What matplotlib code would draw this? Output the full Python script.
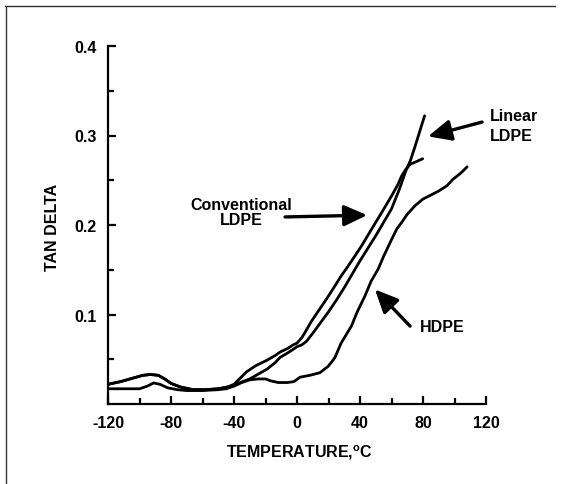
import numpy as np
import matplotlib
matplotlib.use('Agg')
import matplotlib.pyplot as plt
from matplotlib.lines import Line2D

plt.rcParams['font.family'] = ['Liberation Sans', 'DejaVu Sans']
plt.rcParams['font.weight'] = 'bold'
plt.rcParams['mathtext.fontset'] = 'custom'
plt.rcParams['mathtext.rm'] = 'Liberation Sans:bold'

# curves (temperature in C, tan delta)
conv_t = [-120, -112, -104, -98, -93, -88, -84, -80, -74, -66, -58, -50, -44, -40, -36,
          -32, -26, -19, -14, -10.8, -6, -2.5, 0, 3, 5.1, 9, 13.6, 19, 24.1, 28, 32.6,
          37, 41.1, 47.4, 53.8, 60.1, 64, 66.5, 69, 72, 76, 79.8]
conv_tan = [0.022, 0.025, 0.029, 0.032, 0.033, 0.032, 0.028, 0.023, 0.019, 0.016, 0.016,
            0.017, 0.019, 0.022, 0.029, 0.036, 0.043, 0.049, 0.054, 0.058, 0.062, 0.066,
            0.068, 0.074, 0.080, 0.092, 0.104, 0.118, 0.132, 0.143, 0.1545, 0.166, 0.177,
            0.1955, 0.214, 0.2327, 0.245, 0.255, 0.262, 0.268, 0.271, 0.274]

lin_t = [-120, -112, -104, -98, -93, -88, -84, -80, -74, -66, -58, -50, -44, -40, -36,
         -30, -24, -19, -14, -10.8, -6, -2.5, 0, 3, 6, 10, 15, 20, 25, 30, 35, 40, 45,
         50, 55, 60, 65, 69, 72, 75, 78, 81]
lin_tan = [0.022, 0.025, 0.029, 0.032, 0.033, 0.032, 0.028, 0.023, 0.019, 0.016, 0.016,
           0.017, 0.019, 0.021, 0.024, 0.028, 0.034, 0.039, 0.046, 0.052, 0.057, 0.061,
           0.064, 0.066, 0.070, 0.079, 0.091, 0.103, 0.116, 0.130, 0.145, 0.160, 0.174,
           0.188, 0.203, 0.218, 0.240, 0.260, 0.272, 0.288, 0.305, 0.322]

hdpe_t = [-120, -110, -100, -95, -91, -87, -82, -76, -70, -60, -50, -45, -40, -35, -30,
          -25, -20, -17, -12, -6, -2, 2, 8, 14.6, 19.7, 22, 24.1, 28, 34.7, 38, 43.2, 47,
          51.6, 55, 60.1, 63.5, 66.5, 70, 74.9, 80, 84.5, 90, 95.3, 99, 104, 108]
hdpe_tan = [0.017, 0.017, 0.017, 0.020, 0.0235, 0.022, 0.018, 0.016, 0.015, 0.015, 0.016,
            0.017, 0.020, 0.024, 0.027, 0.028, 0.028, 0.026, 0.024, 0.024, 0.025, 0.030,
            0.032, 0.035, 0.042, 0.047, 0.052, 0.068, 0.0875, 0.102, 0.121, 0.137, 0.151,
            0.165, 0.184, 0.196, 0.203, 0.212, 0.2215, 0.229, 0.233, 0.238, 0.244, 0.251,
            0.258, 0.265]

x_ticks = [-120, -80, -40, 0, 40, 80, 120]
y_ticks = [0.1, 0.2, 0.3, 0.4]

fig = plt.figure(figsize=(5.61, 4.85), dpi=100)
ax = fig.add_axes([108/561, 1 - 405/485, 378/561, 358/485])

for t, v in [(conv_t, conv_tan), (lin_t, lin_tan), (hdpe_t, hdpe_tan)]:
    ax.plot(t, v, color='black', lw=2.0, solid_capstyle='round', solid_joinstyle='round')

ax.set_xlim(-120, 120)
ax.set_ylim(0, 0.4)
ax.spines['top'].set_visible(False)
ax.spines['right'].set_visible(False)
ax.spines['left'].set_linewidth(1.6)
ax.spines['bottom'].set_linewidth(1.6)

ax.set_xticks(x_ticks)
ax.set_xticks(np.arange(-100, 120, 40), minor=True)
ax.set_yticks(y_ticks)
ax.set_yticks([0.05, 0.15, 0.25, 0.35], minor=True)
ax.tick_params(which='major', direction='in', length=6, width=1.6, labelsize=11.5, pad=8)
ax.tick_params(which='minor', direction='in', length=4, width=1.6)
ax.set_xticklabels([str(v) for v in x_ticks])
ax.set_yticklabels(['0.1', '0.2', '0.3', '0.4'])

fig.text(299/561, 1 - 453/485, 'TEMPERATURE,$\\mathregular{^o}$C', ha='center', va='center', fontsize=11.5)
fig.text(53/561, 1 - 227/485, 'TAN DELTA', rotation=90, ha='center', va='center', fontsize=11.5)

arrow = dict(arrowstyle='-|>,head_length=0.7,head_width=0.32', lw=2.4, color='black',
             mutation_scale=20, shrinkA=0, shrinkB=0)
ax.annotate('', xy=(83.2, 0.299), xytext=(117.5, 0.315), arrowprops=arrow, annotation_clip=False)
ax.annotate('', xy=(44.5, 0.211), xytext=(-7.6, 0.209), arrowprops=arrow)
ax.annotate('', xy=(49.5, 0.128), xytext=(71.8, 0.087), arrowprops=arrow)

ax.text(122.6, 0.3116, 'Linear\nLDPE', ha='left', va='center', fontsize=11.5,
        linespacing=1.4, clip_on=False)
ax.text(-35.5, 0.2145, 'Conventional\nLDPE', ha='center', va='center', fontsize=11.5,
        linespacing=0.95)
ax.text(78.1, 0.087, 'HDPE', ha='left', va='center', fontsize=11.5)

# frame around the figure (top and left edges only show in the scan)
fig.add_artist(Line2D([5/561, 555/561], [1 - 7/485, 1 - 7/485], transform=fig.transFigure,
                      color='#333333', lw=1))
fig.add_artist(Line2D([6/561, 6/561], [1 - 7/485, 0], transform=fig.transFigure,
                      color='#333333', lw=1))

fig.savefig('out.png', dpi=100)
